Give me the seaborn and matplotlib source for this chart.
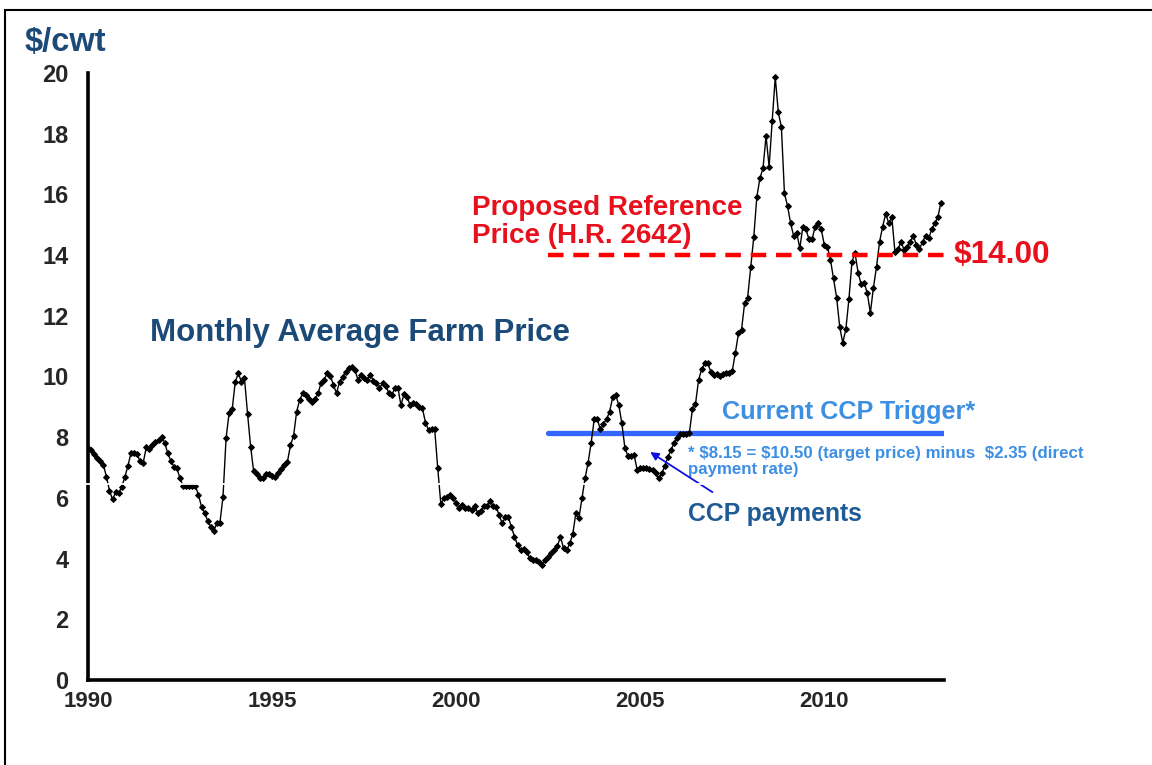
import numpy as np
import pandas as pd
import matplotlib
matplotlib.use("Agg")
import matplotlib.pyplot as plt
import seaborn as sns
from matplotlib.patches import Rectangle

# monthly average farm price, $/cwt, Jan 1990 onward
START_YEAR = 1990
p1990 = [7.63, 7.58, 7.44, 7.33, 7.22, 7.10, 6.70, 6.24, 5.95, 6.18, 6.15, 6.37]
p1991 = [6.68, 7.05, 7.47, 7.47, 7.45, 7.20, 7.16, 7.67, 7.60, 7.74, 7.85, 7.91]
p1992 = [8.00, 7.82, 7.47, 7.22, 7.03, 6.97, 6.64, 6.39, 6.39, 6.39, 6.39, 6.39]
p1993 = [6.10, 5.71, 5.51, 5.25, 5.05, 4.92, 5.16, 5.18, 6.04, 7.96, 8.81, 8.92]
p1994 = [9.83, 10.10, 9.83, 9.94, 8.78, 7.69, 6.87, 6.80, 6.64, 6.64, 6.80, 6.78]
p1995 = [6.72, 6.70, 6.83, 6.94, 7.08, 7.19, 7.74, 8.04, 8.84, 9.23, 9.45, 9.39]
p1996 = [9.25, 9.17, 9.25, 9.45, 9.80, 9.90, 10.12, 10.02, 9.72, 9.45, 9.83, 9.99]
p1997 = [10.16, 10.27, 10.30, 10.20, 9.90, 10.05, 9.94, 9.90, 10.05, 9.86, 9.80, 9.61]
p1998 = [9.78, 9.69, 9.47, 9.39, 9.61, 9.63, 9.06, 9.42, 9.31, 9.06, 9.14, 9.09]
p1999 = [9.01, 8.95, 8.48, 8.24, 8.26, 8.26, 6.97, 5.80, 5.99, 6.04, 6.10, 5.99]
p2000 = [5.84, 5.66, 5.77, 5.66, 5.66, 5.60, 5.73, 5.51, 5.58, 5.73, 5.73, 5.91]
p2001 = [5.73, 5.70, 5.44, 5.16, 5.36, 5.36, 5.05, 4.72, 4.45, 4.28, 4.30, 4.23]
p2002 = [4.01, 3.95, 3.97, 3.90, 3.79, 3.95, 4.06, 4.17, 4.28, 4.42, 4.72, 4.34]
p2003 = [4.28, 4.50, 4.81, 5.49, 5.33, 5.99, 6.64, 7.16, 7.82, 8.59, 8.59, 8.26]
p2004 = [8.44, 8.59, 8.84, 9.31, 9.39, 9.06, 8.46, 7.64, 7.38, 7.38, 7.41, 6.92]
p2005 = [6.97, 6.99, 6.99, 6.96, 6.92, 6.81, 6.64, 6.81, 7.05, 7.34, 7.58, 7.80]
p2006 = [7.96, 8.11, 8.11, 8.11, 8.13, 8.92, 9.09, 9.88, 10.24, 10.43, 10.43, 10.16]
p2007 = [10.05, 10.08, 10.02, 10.08, 10.10, 10.12, 10.19, 10.78, 11.42, 11.53, 12.41, 12.60]
p2008 = [13.61, 14.60, 15.92, 16.53, 16.86, 17.92, 16.91, 18.42, 19.86, 18.70, 18.22, 16.03]
p2009 = [15.62, 15.05, 14.63, 14.74, 14.22, 14.94, 14.85, 14.52, 14.52, 14.94, 15.05, 14.85]
p2010 = [14.33, 14.28, 13.84, 13.23, 12.60, 11.64, 11.11, 11.55, 12.54, 13.78, 14.07, 13.42]
p2011 = [13.05, 13.09, 12.74, 12.10, 12.93, 13.61, 14.44, 14.94, 15.36, 15.05, 15.25, 14.11]
p2012 = [14.19, 14.44, 14.17, 14.26, 14.44, 14.63, 14.33, 14.19, 14.44, 14.63, 14.55, 14.85]
p2013 = [15.05, 15.25, 15.73]

REF_PRICE = 14.00       # proposed reference price (H.R. 2642)
CCP_TRIGGER = 8.15      # current CCP trigger
LINES_FROM = 2002.5     # both policy lines start here
X_END = 2013.25

YEAR_TICKS = list(range(1990, 2014))
LABEL_TICKS = [1990, 1995, 2000, 2005, 2010]
Y_TICKS = list(range(0, 21, 2))

DARK_BLUE = "#1B4A78"
LIGHT_BLUE = "#3D8FE3"
RED = "#E8101C"

prices = (p1990 + p1991 + p1992 + p1993 + p1994 + p1995 + p1996 + p1997
          + p1998 + p1999 + p2000 + p2001 + p2002 + p2003 + p2004 + p2005
          + p2006 + p2007 + p2008 + p2009 + p2010 + p2011 + p2012 + p2013)
df = pd.DataFrame({"year": START_YEAR + np.arange(len(prices)) / 12.0,
                   "price": prices})

sns.set_style("white")
plt.rcParams["font.family"] = ["Liberation Sans", "DejaVu Sans"]

W, H = 1152, 765
fig = plt.figure(figsize=(W / 100, H / 100), dpi=100)
fig.patches.append(Rectangle((5 / W, -0.1), 1.2, 1 - 10 / H + 0.1,
                             transform=fig.transFigure, fill=False,
                             edgecolor="black", lw=1.5))

ax = fig.add_axes([88 / W, 1 - 680 / H, (944 - 88) / W, (680 - 73) / H])

sns.lineplot(data=df, x="year", y="price", ax=ax, color="black", lw=1.0,
             marker="D", markersize=3.0, markeredgecolor="black", zorder=3)

# policy lines
ax.plot([LINES_FROM, X_END], [REF_PRICE, REF_PRICE], color="#FF0000",
        lw=3.2, ls=(0, (3.5, 2.2)), zorder=4)
ax.plot([LINES_FROM, X_END], [CCP_TRIGGER, CCP_TRIGGER], color="#3366FF",
        lw=3.8, solid_capstyle="round", zorder=2)

# white hairline artefact from the original slide
ax.plot([-0.02, 1.0], [0.323, 0.323], transform=ax.transAxes, color="white",
        lw=1.3, clip_on=False, zorder=6)

ax.set_xlim(START_YEAR, X_END)
ax.set_ylim(0, 20)
ax.set_xticks(LABEL_TICKS)
ax.set_xticks(YEAR_TICKS, minor=True)
ax.set_yticks(Y_TICKS)
ax.set_xlabel("")
ax.set_ylabel("")
for side in ["top", "right"]:
    ax.spines[side].set_visible(False)
for side in ["left", "bottom"]:
    ax.spines[side].set_linewidth(2.6)
    ax.spines[side].set_color("black")
ax.tick_params(axis="both", which="both", direction="out", length=4,
               width=2.2, color="black")
ax.tick_params(axis="x", labelsize=16, pad=4)
ax.tick_params(axis="y", labelsize=17, pad=10)
for lab in ax.get_xticklabels() + ax.get_yticklabels():
    lab.set_fontweight("bold")

# annotations
fig.text(25 / W, 1 - 43 / H, r"\$/cwt", color=DARK_BLUE, fontsize=23.5,
         fontweight="bold", ha="left", va="center")
ax.text(1991.68, 11.43, "Monthly Average Farm Price", color=DARK_BLUE,
        fontsize=22.5, fontweight="bold", ha="left", va="center")
ax.text(2000.43, 15.1, "Proposed Reference\nPrice (H.R. 2642)", color=RED,
        fontsize=20, fontweight="bold", ha="left", va="center",
        linespacing=1.1)
ax.text(2013.5, REF_PRICE, r"\$14.00", color=RED, fontsize=22.7,
        fontweight="bold", ha="left", va="center")
ax.text(2007.23, 8.83, "Current CCP Trigger*", color=LIGHT_BLUE, fontsize=18.2,
        fontweight="bold", ha="left", va="center")
ax.text(2006.3, 7.2,
        "* \\$8.15 = \\$10.50 (target price) minus  \\$2.35 (direct\npayment rate)",
        color=LIGHT_BLUE, fontsize=12.2, fontweight="bold", ha="left",
        va="center", linespacing=1.1)
ax.text(2006.3, 5.47, "CCP payments", color="#1E5B96", fontsize=17.8,
        fontweight="bold", ha="left", va="center")
ax.annotate("", xy=(2005.27, 7.51), xytext=(2006.96, 6.19),
            arrowprops=dict(arrowstyle="-|>", color="#1010E0", lw=1.3,
                            mutation_scale=12, shrinkA=0, shrinkB=0))

fig.savefig("out.png", dpi=100)
